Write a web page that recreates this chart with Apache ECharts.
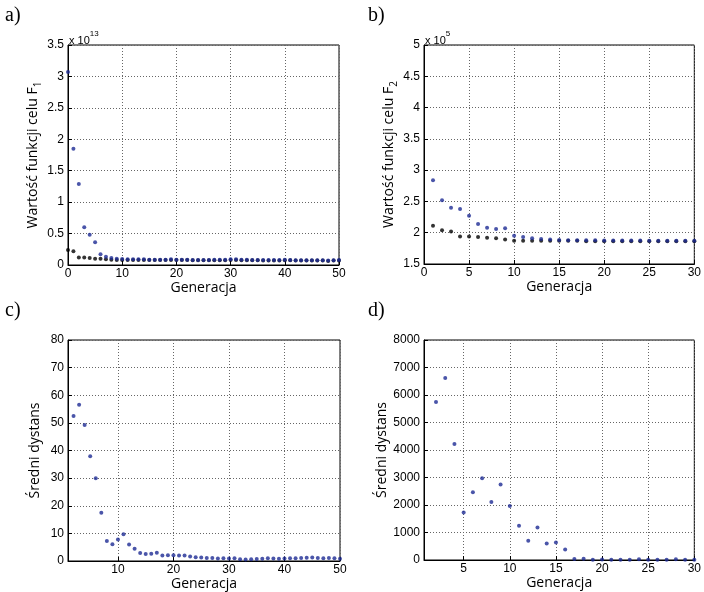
<!DOCTYPE html>
<html>
<head>
<meta charset="utf-8">
<script src="https://cdn.jsdelivr.net/npm/echarts@6/dist/echarts.min.js"></script>
<style>
  html, body { margin: 0; padding: 0; background: #fff; }
  #main { width: 704px; height: 592px; }
</style>
</head>
<body>
<div id="main"></div>
<script>
// a) F1 values (x 10^13), generations 0..50
const startA = 0;
const blueA = [3.07, 1.85, 1.29, 0.60, 0.48, 0.36, 0.17, 0.13, 0.11, 0.10,
  0.095, 0.09, 0.09, 0.09, 0.09, 0.085, 0.085, 0.085, 0.085, 0.09, 0.085,
  0.085, 0.085, 0.08, 0.08, 0.08, 0.08, 0.085, 0.085, 0.085, 0.09,
  0.09, 0.085, 0.085, 0.08, 0.08, 0.08, 0.08, 0.08, 0.08, 0.085,
  0.08, 0.075, 0.075, 0.075, 0.075, 0.075, 0.075, 0.07, 0.075, 0.08];
const blackA = [0.24, 0.22, 0.12, 0.12, 0.11, 0.10, 0.10, 0.09, 0.085, 0.08,
  0.08, 0.08, 0.08, 0.08, 0.08, 0.08, 0.08, 0.08, 0.08, 0.08, 0.08,
  0.08, 0.08, 0.075, 0.075, 0.075, 0.075, 0.075, 0.075, 0.075, 0.08,
  0.08, 0.075, 0.075, 0.075, 0.075, 0.07, 0.07, 0.07, 0.07, 0.075,
  0.075, 0.07, 0.07, 0.07, 0.07, 0.07, 0.07, 0.065, 0.07, 0.07];

// b) F2 values (x 10^5), generations 1..30
const startB = 1;
const blueB = [2.84, 2.52, 2.40, 2.38, 2.27, 2.14, 2.08, 2.06, 2.07, 1.95,
  1.93, 1.91, 1.90, 1.89, 1.885, 1.88, 1.88, 1.88, 1.88, 1.875,
  1.875, 1.875, 1.875, 1.875, 1.87, 1.87, 1.87, 1.87, 1.87, 1.87];
const blackB = [2.11, 2.04, 2.02, 1.94, 1.94, 1.93, 1.92, 1.91, 1.89, 1.87,
  1.87, 1.87, 1.87, 1.87, 1.87, 1.87, 1.87, 1.865, 1.865, 1.865,
  1.865, 1.865, 1.865, 1.865, 1.865, 1.865, 1.865, 1.865, 1.865, 1.865];

// c) mean distance, generations 2..50
const startC = 2;
const distC = [52.5, 56.6, 49.2, 37.9, 30.0, 17.5, 7.2, 6.1, 7.8, 9.7,
  6.0, 4.4, 2.9, 2.5, 2.6, 3.0, 2.0, 2.1, 2.1, 2.0,
  2.0, 1.6, 1.4, 1.3, 1.1, 1.1, 0.9, 1.0, 0.9, 1.0,
  0.6, 0.5, 0.6, 0.7, 0.8, 1.0, 0.9, 0.8, 0.9, 1.0,
  1.0, 1.1, 1.2, 1.3, 1.1, 1.0, 1.1, 1.0, 0.8];

// d) mean distance, generations 2..30
const startD = 2;
const distD = [5750, 6620, 4220, 1730, 2460, 2970, 2110, 2750, 1960, 1250,
  700, 1180, 600, 640, 380, 36, 48, 12, 15, 10,
  10, 12, 30, 10, 8, 10, 30, 10, 10];

const ticksC = [10, 20, 30, 40, 50];
const ticksD = [5, 10, 15, 20, 25, 30];

const BLUE = '#1d2a93';
const tickFont = { fontFamily: 'Liberation Sans', fontSize: 12, color: '#000' };
const nameFont = 'Open Sans';
const gridLine = { show: true, lineStyle: { color: '#666', type: [1, 2], width: 1 } };

function pts(start, arr) {
  return arr.map((v, i) => [start + i, v]);
}

function xAxis(idx, min, max, interval, custom) {
  const ax = {
    gridIndex: idx, type: 'value', min: min, max: max,
    name: 'Generacja', nameLocation: 'middle', nameGap: 12,
    nameTextStyle: { fontFamily: nameFont, fontSize: 14, color: '#000', verticalAlign: 'top' },
    axisLine: { show: true, onZero: false, lineStyle: { color: '#000', width: 1 } },
    axisTick: { show: true, inside: true, length: 4, lineStyle: { color: '#000' } },
    axisLabel: Object.assign({ margin: 3, showMinLabel: true, showMaxLabel: true }, tickFont),
    splitLine: gridLine
  };
  if (interval) ax.interval = interval;
  if (custom) {
    ax.axisTick.customValues = custom;
    ax.axisLabel.customValues = custom;
  }
  return ax;
}

function yAxis(idx, min, max, interval, name, gap) {
  return {
    gridIndex: idx, type: 'value', min: min, max: max, interval: interval,
    name: name, nameLocation: 'middle', nameGap: gap, nameRotate: 90,
    nameTextStyle: {
      fontFamily: nameFont, fontSize: 14, color: '#000',
      rich: {
        n: { fontFamily: nameFont, fontSize: 14, color: '#000', lineHeight: 20 },
        s: { fontFamily: nameFont, fontSize: 10, color: '#000', lineHeight: 20, verticalAlign: 'bottom' }
      }
    },
    axisLine: { show: true, lineStyle: { color: '#000', width: 1 } },
    axisTick: { show: true, inside: true, length: 4, lineStyle: { color: '#000' } },
    axisLabel: Object.assign({ margin: 4, formatter: v => String(v) }, tickFont),
    splitLine: gridLine
  };
}

function dots(xi, data, color) {
  return {
    type: 'scatter', xAxisIndex: xi, yAxisIndex: xi, data: data,
    symbol: 'circle', symbolSize: 4, itemStyle: { color: color },
    clip: false, silent: true, animation: false
  };
}

const border = { show: true, borderColor: '#000', borderWidth: 1, backgroundColor: 'transparent' };

const option = {
  animation: false,
  grid: [
    Object.assign({ left: 68, top: 45, width: 271, height: 220 }, border),
    Object.assign({ left: 424, top: 45, width: 275, height: 219 }, border),
    Object.assign({ left: 68, top: 340, width: 272, height: 221 }, border),
    Object.assign({ left: 424, top: 340, width: 275, height: 220 }, border)
  ],
  xAxis: [
    xAxis(0, 0, 50, 10),
    xAxis(1, 0, 30, 5),
    xAxis(2, 1, 50, null, ticksC),
    xAxis(3, 0.7, 30, null, ticksD)
  ],
  yAxis: [
    yAxis(0, 0, 3.5, 0.5, '{n|Wartość funkcji celu F}{s|1}', 22),
    yAxis(1, 1.5, 5, 0.5, '{n|Wartość funkcji celu F}{s|2}', 17),
    yAxis(2, 0, 80, 10, 'Średni dystans', 26),
    yAxis(3, 0, 8000, 1000, 'Średni dystans', 33)
  ],
  series: [
    dots(0, pts(startA, blackA), '#000'),
    dots(0, pts(startA, blueA), BLUE),
    dots(1, pts(startB, blackB), '#000'),
    dots(1, pts(startB, blueB), BLUE),
    dots(2, pts(startC, distC), BLUE),
    dots(3, pts(startD, distD), BLUE)
  ],
  graphic: [
    { type: 'text', left: 5, top: 6, style: { text: 'a)', font: '20px "Liberation Serif"', fill: '#000' } },
    { type: 'text', left: 368, top: 6, style: { text: 'b)', font: '20px "Liberation Serif"', fill: '#000' } },
    { type: 'text', left: 5, top: 301, style: { text: 'c)', font: '20px "Liberation Serif"', fill: '#000' } },
    { type: 'text', left: 368, top: 301, style: { text: 'd)', font: '20px "Liberation Serif"', fill: '#000' } },
    {
      type: 'text', left: 69, top: 30,
      style: {
        text: '{t|x 10}{u|13}', fill: '#000',
        rich: {
          t: { fontFamily: 'Liberation Sans', fontSize: 11, lineHeight: 16, verticalAlign: 'bottom' },
          u: { fontFamily: 'Liberation Sans', fontSize: 8, lineHeight: 16, verticalAlign: 'top' }
        }
      }
    },
    {
      type: 'text', left: 425, top: 30,
      style: {
        text: '{t|x 10}{u|5}', fill: '#000',
        rich: {
          t: { fontFamily: 'Liberation Sans', fontSize: 11, lineHeight: 16, verticalAlign: 'bottom' },
          u: { fontFamily: 'Liberation Sans', fontSize: 8, lineHeight: 16, verticalAlign: 'top' }
        }
      }
    }
  ]
};

const chart = echarts.init(document.getElementById('main'), null, { renderer: 'canvas' });
chart.setOption(option);
</script>
</body>
</html>
